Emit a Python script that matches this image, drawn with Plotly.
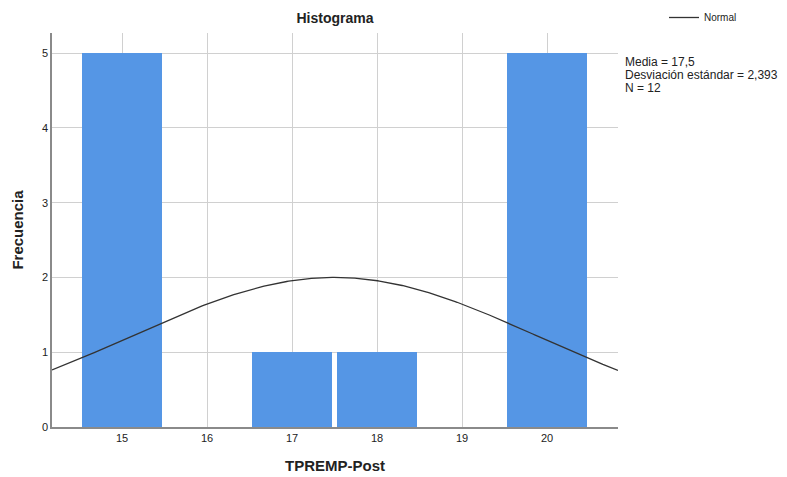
import numpy as np
import plotly.graph_objects as go

# Data
values = [15, 17, 18, 20]
counts = [5, 1, 1, 5]
mean = 17.5
sd = 2.393
n = 12
x_ticks = [15, 16, 17, 18, 19, 20]
y_ticks = [0, 1, 2, 3, 4, 5]
stats_lines = ["Media = 17,5", "Desviación estándar = 2,393", "N = 12"]

xmin, xmax = 14.176, 20.835
xs = np.linspace(xmin, xmax, 300)
ys = n * 1.0 / (sd * np.sqrt(2 * np.pi)) * np.exp(-0.5 * ((xs - mean) / sd) ** 2)

fig = go.Figure()
fig.add_trace(go.Bar(
    x=values, y=counts, width=0.94,
    marker=dict(color="#5596E5", line=dict(width=0)),
    showlegend=False, hoverinfo="skip"))
fig.add_trace(go.Scatter(
    x=xs, y=ys, mode="lines", name="Normal",
    line=dict(color="#333333", width=1.3), showlegend=True))

L, R, T, B = 52, 618, 33, 427
PW, PH = R - L, B - T

font = "Liberation Sans, Arial, sans-serif"
fig.update_layout(
    width=787, height=477,
    margin=dict(l=L, r=787 - R, t=T, b=477 - B, autoexpand=False),
    paper_bgcolor="white", plot_bgcolor="white",
    font=dict(family=font, size=11, color="#222"),
    title=dict(text="<b>Histograma</b>", x=335 / 787, xanchor="center",
               y=1 - 18 / 477, yanchor="middle", font=dict(size=14, color="#222")),
    bargap=0,
    legend=dict(x=(664 - L) / PW, y=1 + (T - 17.5) / PH, xanchor="left",
                yanchor="middle", font=dict(size=10), bgcolor="rgba(0,0,0,0)",
                itemwidth=30, tracegroupgap=0),
    showlegend=True,
)
fig.update_xaxes(
    range=[xmin, xmax], tickmode="array", tickvals=x_ticks,
    ticktext=[str(t) for t in x_ticks],
    showgrid=True, gridcolor="#d0d0d0", gridwidth=1,
    showline=True, linecolor="#8a8a8a", linewidth=1.5,
    ticks="", ticklen=0, zeroline=False,
    title=dict(text="<b>TPREMP-Post</b>", font=dict(size=15, color="#222"), standoff=18),
    tickfont=dict(size=11))
fig.update_yaxes(
    range=[0, 5.27], tickmode="array", tickvals=y_ticks,
    ticktext=[str(t) for t in y_ticks],
    showgrid=True, gridcolor="#d0d0d0", gridwidth=1,
    showline=True, linecolor="#8a8a8a", linewidth=1.5,
    ticks="", zeroline=False,
    title=dict(text="<b>Frecuencia</b>", font=dict(size=15, color="#222"), standoff=15),
    tickfont=dict(size=11))

for i, line in enumerate(stats_lines):
    fig.add_annotation(
        xref="paper", yref="paper", x=(623 - L) / PW, y=1 - (62 + 13 * i - T) / PH,
        xanchor="left", yanchor="middle", align="left", showarrow=False,
        text=line, font=dict(size=12, color="#222"))

fig.write_html("out.html", config={"displayModeBar": False},
               post_script="document.body.style.margin='0';")
